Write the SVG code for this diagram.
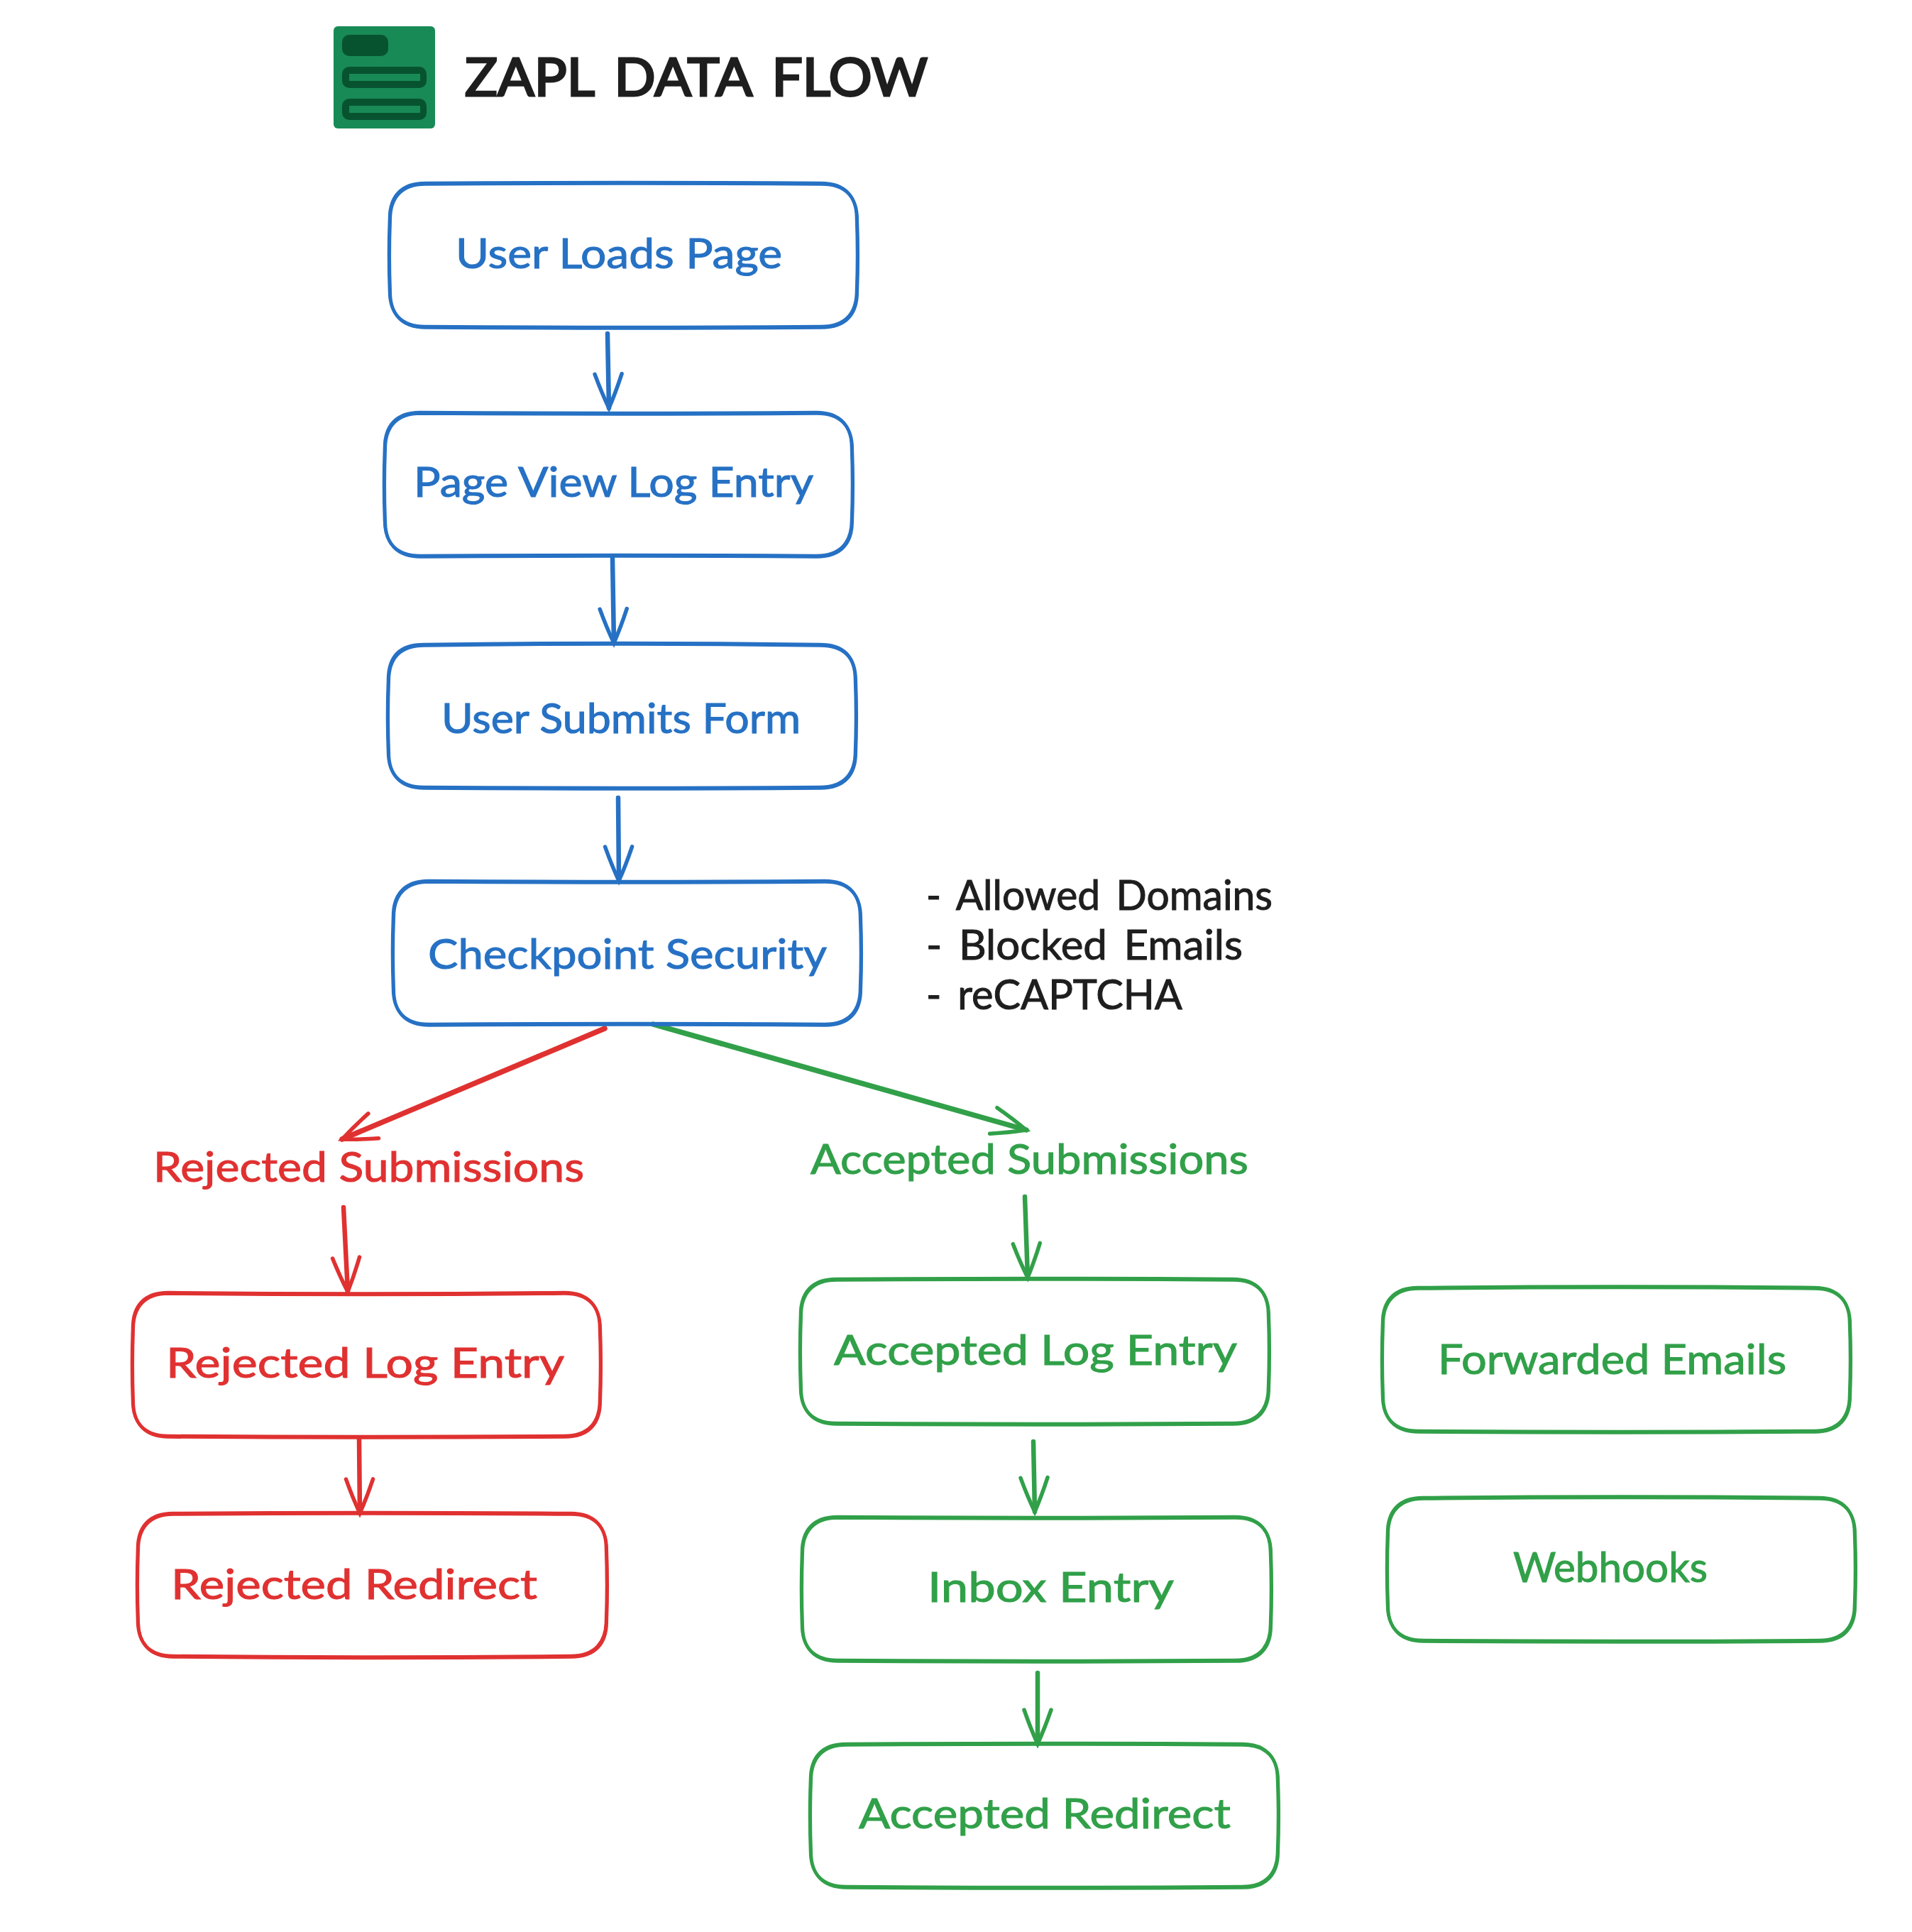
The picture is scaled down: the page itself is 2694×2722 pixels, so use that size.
<svg xmlns="http://www.w3.org/2000/svg" width="2694" height="2722" viewBox="0 0 2694 2722">
  <style>
    .box { fill: none; stroke-width: 4.5; stroke-linejoin: round; stroke-linecap: round; }
    .wire { fill: none; stroke-linecap: round; stroke-width: 6.5; }
    .heavy { stroke-width: 7.5; }
    .label { font-family: "Lato", "Liberation Sans", sans-serif; font-size: 58px; font-weight: 400; stroke-width: 1; }
    .note { fill: #1e1e1e; stroke: #1e1e1e; word-spacing: 8px; }
    .blue { stroke: #2671c4; } .red { stroke: #e03131; } .green { stroke: #31a049; }
    text.blue { fill: #2671c4; } text.red { fill: #e03131; } text.green { fill: #31a049; }
    .head { fill: none; stroke-width: 5.5; stroke-linecap: round; }
  </style>
  <defs>
    <marker id="head-blue" markerUnits="userSpaceOnUse" markerWidth="70" markerHeight="56" viewBox="-62 -28 70 56" refX="0" refY="0" orient="auto"><path class="head blue" d="M-48,-19 Q-22,-10 0,0 Q-22,10 -48,19"/></marker>
    <marker id="head-red" markerUnits="userSpaceOnUse" markerWidth="70" markerHeight="56" viewBox="-62 -28 70 56" refX="0" refY="0" orient="auto"><path class="head red" d="M-48,-19 Q-22,-10 0,0 Q-22,10 -48,19"/></marker>
    <marker id="head-green" markerUnits="userSpaceOnUse" markerWidth="70" markerHeight="56" viewBox="-62 -28 70 56" refX="0" refY="0" orient="auto"><path class="head green" d="M-48,-19 Q-22,-10 0,0 Q-22,10 -48,19"/></marker>
  </defs>
  <rect width="2694" height="2722" fill="#ffffff"/>

  <g id="logo">
    <rect x="470" y="37" width="143" height="144" rx="6" fill="#188a56"/>
    <rect x="482" y="49" width="65" height="30" rx="10" fill="#075330"/>
    <rect x="482" y="94" width="119" height="30" rx="10" fill="#075330"/>
    <rect x="492" y="104" width="100" height="10" fill="#188a56"/>
    <rect x="482" y="139" width="119" height="30" rx="10" fill="#075330"/>
    <rect x="492" y="149" width="100" height="10" fill="#188a56"/>
  </g>
  <g id="title"><text class="label note" x="655" y="135" style="font-size:74px;stroke-width:3;word-spacing:10px" textLength="652" lengthAdjust="spacingAndGlyphs">ZAPL DATA FLOW</text></g>

  <g id="connectors">
    <path class="wire blue" d="M856,470 L858,575" marker-end="url(#head-blue)"/>
    <path class="wire blue" d="M863,786 L865,906" marker-end="url(#head-blue)"/>
    <path class="wire blue" d="M871,1124 L872,1241" marker-end="url(#head-blue)"/>
    <path class="wire heavy red" d="M852,1449 L482,1605" marker-end="url(#head-red)"/>
    <path class="wire heavy green" d="M920,1443 L1446,1592" marker-end="url(#head-green)"/>
    <path class="wire red" d="M484,1701 L490,1820" marker-end="url(#head-red)"/>
    <path class="wire red" d="M506,2027 L507,2132" marker-end="url(#head-red)"/>
    <path class="wire green" d="M1444,1686 L1448,1800" marker-end="url(#head-green)"/>
    <path class="wire green" d="M1456,2031 L1458,2130" marker-end="url(#head-green)"/>
    <path class="wire green" d="M1462,2357 L1462,2457" marker-end="url(#head-green)"/>
  </g>

  <!-- each outline is traced twice with a small offset for the pen-drawn look -->
  <g id="user-loads-page">
    <path id="o1" class="box blue" d="M599,258 Q878,256 1157,258 C1192,258 1207,278 1207,308 Q1209,359 1207,410 C1207,440 1192,460 1157,460 Q878,462 599,460 C564,460 549,440 549,410 Q547,359 549,308 C549,278 564,258 599,258Z"/>
    <use href="#o1" transform="translate(0.8,1.5)"/>
    <text class="label blue" x="642" y="378" textLength="460" lengthAdjust="spacingAndGlyphs">User Loads Page</text>
  </g>
  <g id="page-view-log-entry">
    <path id="o2" class="box blue" d="M592,581 Q871,583 1150,581 C1185,581 1200,601 1200,631 Q1202,682 1200,733 C1200,763 1185,783 1150,783 Q871,781 592,783 C557,783 542,763 542,733 Q540,682 542,631 C542,601 557,581 592,581Z"/>
    <use href="#o2" transform="translate(0.8,1.5)"/>
    <text class="label blue" x="583" y="700" textLength="563" lengthAdjust="spacingAndGlyphs">Page View Log Entry</text>
  </g>
  <g id="user-submits-form">
    <path id="o3" class="box blue" d="M597,908 Q876,904 1155,908 C1190,908 1205,926 1205,958 Q1207,1008 1205,1059 C1205,1089 1190,1109 1155,1109 Q876,1111 597,1109 C562,1109 547,1089 547,1059 Q545,1008 547,958 C547,926 562,908 597,908Z"/>
    <use href="#o3" transform="translate(0.8,1.5)"/>
    <text class="label blue" x="622" y="1033" textLength="506" lengthAdjust="spacingAndGlyphs">User Submits Form</text>
  </g>
  <g id="checkpoint-security">
    <path id="o4" class="box blue" d="M604,1241 Q883,1243 1162,1241 C1197,1241 1212,1261 1212,1291 Q1214,1342 1212,1393 C1212,1423 1197,1443 1162,1443 Q883,1441 604,1443 C569,1443 554,1423 554,1393 Q552,1342 554,1291 C554,1261 569,1241 604,1241Z"/>
    <use href="#o4" transform="translate(0.8,1.5)"/>
    <text class="label blue" x="603" y="1365" textLength="562" lengthAdjust="spacingAndGlyphs">Checkpoint Security</text>
  </g>

  <g id="security-notes">
    <text class="label note" x="1305" y="1282" textLength="488" lengthAdjust="spacingAndGlyphs">- Allowed Domains</text>
    <text class="label note" x="1305" y="1352" textLength="446" lengthAdjust="spacingAndGlyphs">- Blocked Emails</text>
    <text class="label note" x="1305" y="1422" textLength="361" lengthAdjust="spacingAndGlyphs">- reCAPTCHA</text>
  </g>

  <g id="rejected-submissions"><text class="label red" x="216" y="1665" textLength="607" lengthAdjust="spacingAndGlyphs">Rejected Submissions</text></g>
  <g id="accepted-submissions"><text class="label green" x="1142" y="1654" textLength="617" lengthAdjust="spacingAndGlyphs">Accepted Submissions</text></g>

  <g id="rejected-log-entry">
    <path id="o5" class="box red" d="M237,1821 Q516,1824 795,1821 C830,1821 845,1841 845,1871 Q847,1922 845,1973 C845,2003 830,2023 795,2023 Q516,2025 237,2023 C202,2023 187,2003 187,1973 Q185,1922 187,1871 C187,1841 202,1821 237,1821Z"/>
    <use href="#o5" transform="translate(0.8,1.5)"/>
    <text class="label red" x="234" y="1941" textLength="561" lengthAdjust="spacingAndGlyphs">Rejected Log Entry</text>
  </g>
  <g id="rejected-redirect">
    <path id="o6" class="box red" d="M244,2132 Q524,2130 804,2132 C839,2132 854,2152 854,2182 Q856,2233 854,2283 C854,2313 839,2333 804,2333 Q524,2336 244,2333 C209,2333 194,2313 194,2283 Q192,2233 194,2182 C194,2152 209,2132 244,2132Z"/>
    <use href="#o6" transform="translate(0.8,1.5)"/>
    <text class="label red" x="241" y="2253" textLength="516" lengthAdjust="spacingAndGlyphs">Rejected Redirect</text>
  </g>
  <g id="accepted-log-entry">
    <path id="o7" class="box green" d="M1178,1802 Q1458,1800 1737,1802 C1772,1802 1787,1822 1787,1852 Q1789,1903 1787,1955 C1787,1985 1772,2005 1737,2005 Q1458,2007 1178,2005 C1143,2005 1128,1985 1128,1955 Q1126,1903 1128,1852 C1128,1822 1143,1802 1178,1802Z"/>
    <use href="#o7" transform="translate(0.8,1.5)"/>
    <text class="label green" x="1175" y="1923" textLength="568" lengthAdjust="spacingAndGlyphs">Accepted Log Entry</text>
  </g>
  <g id="inbox-entry">
    <path id="o8" class="box green" d="M1180,2137 Q1460,2139 1740,2137 C1775,2137 1790,2157 1790,2187 Q1792,2238 1790,2289 C1790,2319 1775,2339 1740,2339 Q1460,2341 1180,2339 C1145,2339 1130,2319 1130,2289 Q1128,2238 1130,2187 C1130,2157 1145,2137 1180,2137Z"/>
    <use href="#o8" transform="translate(0.8,1.5)"/>
    <text class="label green" x="1307" y="2257" textLength="347" lengthAdjust="spacingAndGlyphs">Inbox Entry</text>
  </g>
  <g id="accepted-redirect">
    <path id="o9" class="box green" d="M1192,2457 Q1471,2455 1750,2457 C1785,2457 1800,2477 1800,2507 Q1802,2558 1800,2608 C1800,2638 1785,2658 1750,2658 Q1471,2660 1192,2658 C1157,2658 1142,2638 1142,2608 Q1140,2558 1142,2507 C1142,2477 1157,2457 1192,2457Z"/>
    <use href="#o9" transform="translate(0.8,1.5)"/>
    <text class="label green" x="1210" y="2576" textLength="524" lengthAdjust="spacingAndGlyphs">Accepted Redirect</text>
  </g>
  <g id="forwarded-emails">
    <path id="o10" class="box green" d="M1998,1814 Q2277,1811 2556,1814 C2591,1814 2606,1834 2606,1864 Q2608,1915 2606,1966 C2606,1996 2591,2016 2556,2016 Q2277,2018 1998,2016 C1963,2016 1948,1996 1948,1966 Q1946,1915 1948,1864 C1948,1834 1963,1814 1998,1814Z"/>
    <use href="#o10" transform="translate(0.8,1.5)"/>
    <text class="label green" x="2026" y="1936" textLength="491" lengthAdjust="spacingAndGlyphs">Forwarded Emails</text>
  </g>
  <g id="webhooks">
    <path id="o11" class="box green" d="M2005,2110 Q2284,2107 2563,2110 C2598,2110 2613,2130 2613,2160 Q2615,2210 2613,2261 C2613,2291 2598,2311 2563,2311 Q2284,2313 2005,2311 C1970,2311 1955,2291 1955,2261 Q1953,2210 1955,2160 C1955,2130 1970,2110 2005,2110Z"/>
    <use href="#o11" transform="translate(0.8,1.5)"/>
    <text class="label green" x="2132" y="2229" textLength="274" lengthAdjust="spacingAndGlyphs">Webhooks</text>
  </g>
</svg>
